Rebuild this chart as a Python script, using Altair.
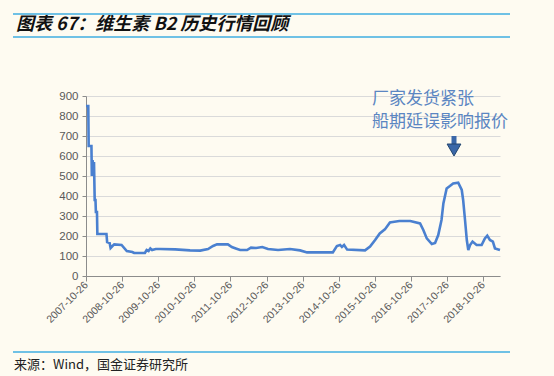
import altair as alt
import pandas as pd

dates = [
    "2007-10-26", "2007-11-18", "2007-11-22", "2007-12-20", "2007-12-24", "2008-01-01",
    "2008-01-08", "2008-01-15", "2008-01-22", "2008-01-30", "2008-02-03", "2008-02-14",
    "2008-02-18", "2008-05-20", "2008-05-27", "2008-06-21", "2008-07-01", "2008-07-20",
    "2008-08-07", "2008-10-20", "2008-12-12", "2009-02-06", "2009-02-24", "2009-06-13",
    "2009-07-01", "2009-07-20", "2009-08-07", "2009-08-25", "2009-10-01", "2009-11-14",
    "2010-04-16", "2010-09-13", "2010-12-25", "2011-03-14", "2011-05-04", "2011-06-13",
    "2011-10-01", "2011-11-10", "2011-12-20", "2012-02-02", "2012-04-12", "2012-05-22",
    "2012-07-12", "2012-09-13", "2012-11-10", "2013-02-20", "2013-06-20", "2013-10-01",
    "2013-12-10", "2014-08-28", "2014-10-08", "2014-11-10", "2014-11-28", "2014-12-20",
    "2015-01-20", "2015-07-20", "2015-09-09", "2015-10-30", "2015-12-16", "2016-02-06",
    "2016-03-28", "2016-04-26", "2016-07-01", "2016-10-20", "2017-01-27", "2017-03-01",
    "2017-04-05", "2017-05-26", "2017-06-28", "2017-07-30", "2017-09-01", "2017-09-20",
    "2017-10-23", "2017-11-25", "2017-12-28", "2018-02-17", "2018-03-25", "2018-04-08",
    "2018-04-27", "2018-05-15", "2018-05-30", "2018-06-17", "2018-07-12", "2018-08-22",
    "2018-10-12", "2018-11-14", "2018-12-08", "2019-01-04", "2019-02-03", "2019-02-24",
    "2019-04-16",
]
prices = [
    850, 850, 650, 650, 500, 580,
    500, 570, 380, 380, 320, 320,
    210, 210, 170, 165, 140, 150,
    158, 155, 125, 120, 115, 115,
    130, 125, 138, 130, 135, 135,
    133, 128, 127, 135, 150, 158,
    158, 145, 138, 130, 130, 142,
    140, 145, 135, 130, 135, 128,
    118, 118, 150, 155, 145, 155,
    132, 128, 147, 180, 213, 233,
    268, 270, 275, 275, 263, 230,
    188, 160, 165, 205, 280, 363,
    438, 450, 463, 467, 430, 380,
    280, 180, 130, 155, 172, 155,
    155, 188, 202, 180, 172, 138,
    130,
]
tick_years = list(range(2007, 2019))
y_ticks = [0, 100, 200, 300, 400, 500, 600, 700, 800, 900]

title_text = "图表 67：维生素 B2 历史行情回顾"
source_text = "来源：Wind，国金证券研究所"
note_lines = ["厂家发货紧张", "船期延误影响报价"]

df = pd.DataFrame({"date": dates, "price": prices})

BG = "#FEFBF1"
LINE = "#4A80D0"
NOTE = "#5B86C2"
RULE = "#3FAEE0"

x_enc = alt.X(
    "date:T",
    scale=alt.Scale(
        type="utc",
        domain=[alt.DateTime(year=2007, month=10, date=26, utc=True),
                alt.DateTime(year=2019, month=4, date=16, utc=True)],
    ),
    axis=alt.Axis(
        values=[alt.DateTime(year=y, month=10, date=26, utc=True) for y in tick_years],
        format="%Y-%m-%d",
        labelAngle=-45,
        labelAlign="right",
        labelBaseline="middle",
        labelFont="Liberation Sans",
        labelFontSize=10.5,
        labelColor="#595959",
        labelPadding=2,
        tickColor="#8C8C8C",
        tickSize=5,
        domainColor="#8C8C8C",
        grid=False,
        title=None,
        labelOverlap=False,
    ),
)
y_enc = alt.Y(
    "price:Q",
    scale=alt.Scale(domain=[0, 900], nice=False, zero=True),
    axis=alt.Axis(
        values=y_ticks,
        labelFont="Liberation Sans",
        labelFontSize=11.5,
        labelColor="#595959",
        labelPadding=4,
        tickColor="#8C8C8C",
        tickSize=4,
        domainColor="#8C8C8C",
        gridColor="#DADADA",
        gridWidth=1,
        title=None,
    ),
)

line = alt.Chart(df).mark_line(color=LINE, strokeWidth=2.6, interpolate="linear").encode(
    x=x_enc, y=y_enc
)

note_df = pd.DataFrame({"t": note_lines, "i": [0, 1]})
notes = alt.Chart(note_df).mark_text(
    align="left", baseline="middle", font="Noto Sans CJK SC", fontSize=17, color=NOTE
).encode(
    x=alt.value(286),
    y=alt.Y("i:Q", scale=alt.Scale(domain=[0, 1], range=[3, 26]), axis=None),
    text="t:N",
)

arrow_shaft = alt.Chart(pd.DataFrame({"a": [0]})).mark_rule(
    color="#3A67A8", strokeWidth=5
).encode(x=alt.value(368), y=alt.value(40), y2=alt.value(51))
arrow_head = alt.Chart(pd.DataFrame({"a": [0]})).mark_point(
    shape="triangle-down", filled=True, size=190, color="#3A67A8", opacity=1,
    stroke="#23466F", strokeWidth=1
).encode(x=alt.value(368), y=alt.value(54))

title = alt.Chart(pd.DataFrame({"t": [title_text]})).mark_text(
    align="left", baseline="middle", font="Noto Sans CJK SC", fontSize=18,
    fontWeight="bold", fontStyle="italic", color="#111111"
).encode(x=alt.value(-70), y=alt.value(-71), text="t:N")

source = alt.Chart(pd.DataFrame({"t": [source_text]})).mark_text(
    align="left", baseline="middle", font="Noto Sans CJK SC", fontSize=13, color="#222222"
).encode(x=alt.value(-72), y=alt.value(269), text="t:N")

rules = alt.Chart(pd.DataFrame({"yy": [-82, -59, 256]})).mark_rule(
    color=RULE, strokeWidth=1.6
).encode(x=alt.value(-73), x2=alt.value(424), y=alt.Y("yy:Q", scale=None, axis=None))

chart = alt.layer(line, notes, arrow_shaft, arrow_head, title, source, rules).resolve_scale(
    y="independent"
).properties(
    width=414,
    height=180,
    autosize=alt.AutoSizeParams(type="none"),
    padding={"left": 86, "top": 96, "right": 54, "bottom": 100},
    background=BG,
).configure_view(stroke=None).configure_axis(domainWidth=1)

chart.save("out.html", embed_options={"renderer": "svg", "actions": False})
